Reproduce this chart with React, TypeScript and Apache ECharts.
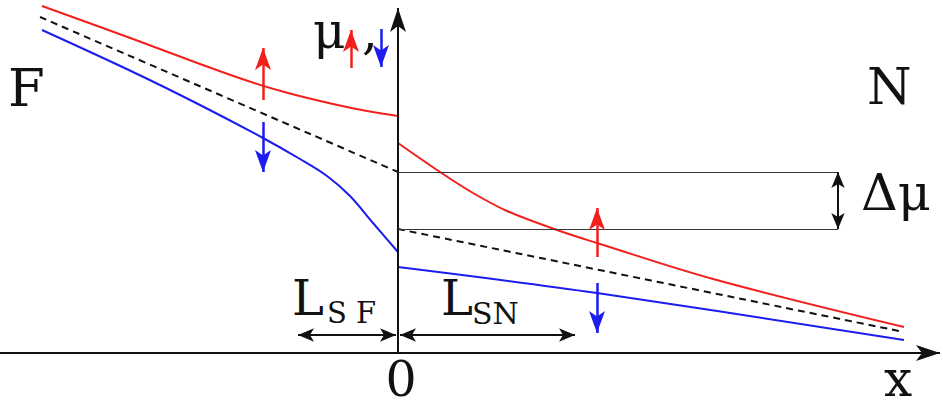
import React, { useEffect, useRef } from "react";
import * as echarts from "echarts";

// Coordinates: x measured from the interface (x = 0), y = chemical potential above the x axis.
const X_RANGE = [-398, 545];
const Y_RANGE = [-54, 353];

const redF: [number, number][] = [[-356, 347], [-265, 314], [-198, 289], [-150, 272], [-110, 260], [-65, 249], [-31, 242], [0, 237]];
const meanF: [number, number][] = [[-358, 336], [0, 181]];
const blueF: [number, number][] = [[-356, 323], [-265, 281], [-198, 248], [-135, 215], [-98, 194], [-71, 177], [-48, 157], [-25, 130], [0, 101]];
const redN: [number, number][] = [[0, 210], [42, 181], [75, 160], [109, 142], [159, 123], [199, 110], [315, 74], [506, 26]];
const meanN: [number, number][] = [[0, 124], [506, 21]];
const blueN: [number, number][] = [[0, 86], [199, 60], [506, 13]];

// spin arrows: [x, yFrom, yTip]
const redArrows: [number, number, number][] = [[-135, 253, 305], [199, 96, 145], [-47, 285, 323]];
const blueArrows: [number, number, number][] = [[-135, 231, 181], [199, 70, 20], [-17, 324, 286]];

// axes
const xAxisLine: [number, number][] = [[-398, 0], [542, 0]];
const yAxisLine: [number, number][] = [[0, 0], [0, 345]];

// Δμ guides and dimension arrows
const deltaLevels = [181, 124];
const deltaX = 440;
const lsfArrow: [number, number][] = [[-100, 18], [-2, 18]];
const lsnArrow: [number, number][] = [[2, 18], [177, 18]];

const RED = "#f2201c";
const BLUE = "#1c1cf0";
const BLACK = "#111111";
const SERIF = "DejaVu Serif";

function seg(a: [number, number], b: [number, number], s0: string, s1: string) {
  return [
    { coord: a, symbol: s0 },
    { coord: b, symbol: s1 },
  ];
}

export default function App() {
  const ref = useRef<HTMLDivElement>(null);
  useEffect(() => {
    document.body.style.margin = "0";
    const chart = echarts.init(ref.current!, null, { renderer: "svg" });
    const lineSeries = (data: [number, number][], color: string, dashed = false) => ({
      type: "line",
      data,
      showSymbol: false,
      smooth: 0.35,
      silent: true,
      lineStyle: { color, width: 2, type: dashed ? [7, 5] : "solid" },
      z: 3,
    });
    const markSeries = (data: any[], color: string, width: number, size: number[]) => ({
      type: "line",
      data: [],
      silent: true,
      markLine: {
        silent: true,
        animation: false,
        symbolSize: size,
        label: { show: false },
        lineStyle: { color, width, type: "solid" },
        emphasis: { disabled: true },
        data,
      },
      z: 4,
    });
    const text = (t: string, x: number, y: number, size: number, align = "left") => ({
      type: "text",
      x,
      y,
      style: {
        text: t,
        fontSize: size,
        fontFamily: SERIF,
        fill: BLACK,
        align,
        verticalAlign: "middle",
        lineHeight: Math.round(size * 0.8),
      },
    });
    chart.setOption({
      animation: false,
      grid: { left: 0, right: 0, top: 0, bottom: 0 },
      xAxis: { type: "value", min: X_RANGE[0], max: X_RANGE[1], show: false },
      yAxis: { type: "value", min: Y_RANGE[0], max: Y_RANGE[1], show: false },
      series: [
        lineSeries(redF, RED),
        lineSeries(meanF, BLACK, true),
        lineSeries(blueF, BLUE),
        lineSeries(redN, RED),
        lineSeries(meanN, BLACK, true),
        lineSeries(blueN, BLUE),
        markSeries(
          [seg(xAxisLine[0], xAxisLine[1], "none", "arrow"), seg(yAxisLine[0], yAxisLine[1], "none", "arrow")],
          BLACK,
          2,
          [12, 24]
        ),
        markSeries(
          deltaLevels.map((y) => seg([0, y], [deltaX, y], "none", "none")),
          "#333",
          1,
          [10, 10]
        ),
        markSeries(
          [seg([deltaX, deltaLevels[0]], [deltaX, deltaLevels[1]], "arrow", "arrow"), seg(lsfArrow[0], lsfArrow[1], "arrow", "arrow"), seg(lsnArrow[0], lsnArrow[1], "arrow", "arrow")],
          BLACK,
          2,
          [10, 16]
        ),
        markSeries(
          redArrows.map(([x, a, b]) => seg([x, a], [x, b], "none", "arrow")),
          RED,
          2.5,
          [12, 22]
        ),
        markSeries(
          blueArrows.map(([x, a, b]) => seg([x, a], [x, b], "none", "arrow")),
          BLUE,
          2.5,
          [12, 22]
        ),
      ],
      graphic: [
        text("F", 8, 87, 53),
        text("N", 867, 86, 51),
        text("μ", 313, 31, 50),
        text(",", 362, 32, 50),
        text("Δμ", 861, 192, 51),
        text("0", 401, 379, 49, "center"),
        text("x", 884, 379, 50),
        text("L", 292, 298, 48),
        text("S F", 327, 313, 29),
        text("L", 441, 298, 48),
        text("SN", 472, 313, 30),
      ],
    });
    return () => chart.dispose();
  }, []);
  return <div ref={ref} style={{ width: 943, height: 407 }} />;
}
